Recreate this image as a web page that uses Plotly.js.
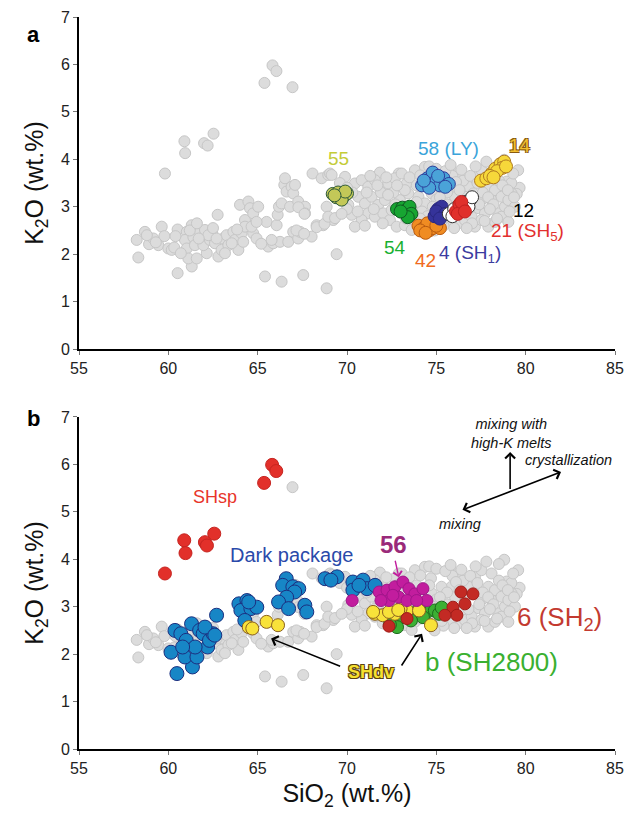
<!DOCTYPE html>
<html>
<head>
<meta charset="utf-8">
<script src="https://cdn.plot.ly/plotly-3.0.1.min.js"></script>
<style>html,body{margin:0;padding:0;background:#fff}#chart{width:628px;height:815px}</style>
</head>
<body>
<div id="chart"></div>
<script>
// Grey background dataset (SiO2, K2O)
const greyX = [65.83,66.05,65.38,66.95,60.90,60.94,62.00,62.20,62.53,59.81,58.32,60.52,61.31,65.41,66.34,67.55,68.86,69.42,68.07,71.84,72.90,79.66,79.50,78.83,
58.23,58.69,58.92,59.16,59.44,59.63,59.78,60.00,60.19,60.33,60.52,61.03,60.93,61.03,61.12,61.31,61.40,61.59,61.49,61.77,62.05,62.15,61.96,62.33,62.46,62.61,62.76,62.80,62.98,63.08,63.26,63.36,63.64,63.73,63.92,64.01,64.10,64.19,64.29,64.29,64.48,64.57,64.75,64.75,64.94,65.03,64.66,65.50,65.59,65.87,66.06,66.12,66.19,66.25,66.34,66.49,66.53,66.62,66.71,66.81,66.90,66.99,67.09,66.99,67.27,67.27,67.37,67.65,67.65,68.02,68.30,68.58,68.67,68.86,68.95,69.05,69.23,62.24,63.55,63.17,62.70,64.94,65.78,60.40,61.20,61.70,62.50,63.85,65.20,67.17,67.60,68.30,68.74,67.28,67.62,58.80,59.30,60.70,61.60,
69.14,68.95,69.33,69.89,70.44,70.82,71.19,71.56,72.03,72.31,72.68,73.06,73.34,70.63,71.00,71.38,71.75,72.12,71.19,71.56,72.03,72.40,72.50,72.78,73.24,70.82,70.26,70.07,70.44,73.80,74.36,76.23,76.79,76.60,77.07,77.35,77.72,78.09,78.47,78.84,79.21,79.58,74.00,74.36,74.74,73.62,73.43,76.04,75.85,75.29,76.42,76.23,76.60,76.98,77.16,77.53,77.91,78.28,78.65,79.03,77.53,77.91,78.28,78.65,79.03,77.16,77.53,78.09,78.93,79.40,72.96,73.06,73.24,73.80,73.62,78.80,78.50,75.60,75.00,74.20,75.80,76.00,72.60,71.90,70.30,69.60,70.00,69.70,74.70,75.90,76.50,77.80,77.20,75.40,74.90,79.20,
71.3,71.7,72.2,72.8,73.5,73.9,74.1,74.6,75.0,75.5,75.8,76.1,76.4,76.9,77.3,77.6,77.9,78.2,78.5,78.7,79.0,79.3,79.1,78.4,77.7,77.0,76.8,76.3,75.6,75.2,74.8,74.5,74.1,73.7,73.9,72.7,72.3,71.5,71.0,70.6,70.0,71.1,72.0,73.3,77.4,78.0,79.35,76.7,75.3,74.6];
const greyY = [5.98,5.86,5.61,5.52,4.38,4.13,4.34,4.29,4.54,3.70,1.93,1.60,1.74,1.53,1.42,1.56,1.28,2.00,3.70,3.72,3.70,3.40,3.27,2.85,
2.30,2.47,2.21,2.33,2.19,2.58,2.38,2.12,2.09,2.14,2.52,2.47,2.30,2.12,1.91,2.61,2.36,1.91,2.19,2.47,2.51,2.02,2.19,2.30,2.44,2.23,2.83,1.95,2.09,2.33,2.40,2.19,2.47,2.30,2.09,3.04,2.44,2.26,2.72,2.58,3.11,2.97,2.86,2.44,2.33,3.00,2.58,2.68,2.16,2.23,2.61,2.83,3.00,2.26,3.07,3.46,3.60,3.32,2.26,3.00,3.42,3.28,3.46,2.47,3.11,2.33,2.47,3.00,2.86,2.37,2.61,3.60,2.61,3.00,3.67,3.70,2.72,2.40,2.23,2.02,2.33,2.68,2.30,2.38,2.50,2.33,2.55,2.52,2.22,2.50,2.43,2.57,2.64,2.99,2.85,2.40,2.25,2.02,2.65,
3.67,2.79,2.76,3.63,3.49,3.56,3.42,3.56,3.39,3.49,3.60,3.70,3.49,3.21,3.07,3.21,3.04,3.14,2.86,2.79,2.86,2.72,2.93,2.58,2.61,2.72,2.83,3.04,2.58,3.77,3.84,3.70,3.42,3.21,3.28,2.97,2.86,3.14,2.86,3.00,3.28,3.77,3.21,3.07,3.28,3.00,3.28,3.21,3.42,3.42,2.93,2.65,2.72,2.79,2.58,2.72,2.58,2.68,2.79,2.68,3.14,3.42,3.35,3.21,3.14,3.63,3.77,3.70,3.53,3.00,3.14,2.86,3.35,2.68,2.51,3.99,3.90,3.05,3.15,2.90,2.70,2.55,3.30,3.30,3.30,3.50,2.95,2.85,3.60,3.65,3.55,3.95,3.85,2.60,2.50,3.50,
3.65,3.45,3.62,3.45,3.62,3.45,3.66,3.85,3.80,3.75,3.88,3.52,3.78,3.65,3.50,3.30,3.20,3.05,3.55,3.45,3.35,3.70,2.90,2.75,2.70,2.65,2.95,3.35,3.30,3.20,3.00,2.80,2.75,2.85,3.10,3.05,3.25,2.95,2.60,2.90,3.40,3.30,2.65,2.75,3.05,2.95,3.20,2.55,2.70,3.45];

// Panel a groups
const s55X = [69.2,69.5,69.8,70.0,69.4,69.7,69.9,69.3];
const s55Y = [3.27,3.30,3.22,3.28,3.20,3.15,3.32,3.24];
const s58X = [74.2,74.5,74.8,75.0,75.2,75.4,75.7,74.6,75.1,74.3,75.5];
const s58Y = [3.45,3.60,3.72,3.55,3.45,3.60,3.48,3.40,3.65,3.55,3.42];
const s14X = [77.5,77.8,78.1,78.3,78.6,78.8,78.7,78.4,78.0,78.9,78.2];
const s14Y = [3.55,3.60,3.70,3.80,3.90,3.95,3.82,3.75,3.65,3.85,3.62];
const s54X = [72.8,73.1,73.3,73.5,73.6,73.4,73.0];
const s54Y = [2.95,2.98,2.92,3.00,2.85,2.78,2.90];
const s42X = [74.0,74.3,74.6,74.8,75.2,74.5,74.1,74.4,75.0];
const s42Y = [2.60,2.55,2.50,2.55,2.55,2.65,2.50,2.45,2.60];
const s4X = [74.9,75.1,75.3,75.0,75.5,75.2];
const s4Y = [2.80,2.95,3.00,2.90,2.85,2.75];
const s12X = [75.7,76.0,76.3,76.6,76.9,76.5,76.2,76.8,75.9,77.0];
const s12Y = [2.85,2.95,3.05,3.10,3.15,3.00,2.88,3.00,2.80,3.20];
const s21X = [76.1,76.3,76.5,76.2,76.4,76.6];
const s21Y = [2.90,3.05,2.95,2.85,3.10,2.90];

// Panel b groups
const shspX = [59.81,60.89,60.96,62.05,62.16,62.57,65.36,65.81,66.04];
const shspY = [3.70,4.40,4.13,4.36,4.29,4.54,5.61,5.99,5.86];
const darkX = [60.48,61.35,60.15,60.93,61.60,60.37,60.70,61.00,61.30,61.75,61.95,62.20,62.30,62.50,61.50,60.80,62.70,62.05,62.60,
63.95,64.40,64.06,64.62,64.95,64.28,64.50,
66.60,66.40,66.97,67.30,67.07,66.62,66.17,66.73,67.64,67.75,
68.77,69.44,69.10,
70.33,70.90,71.12,70.33,71.57,70.67];
const darkY = [1.59,1.73,2.04,1.94,1.94,2.50,2.43,2.29,2.64,2.50,2.43,2.15,2.29,2.43,2.15,2.15,2.82,2.57,2.40,
3.06,3.13,2.92,2.96,2.99,2.71,3.10,
3.59,3.45,3.42,3.38,3.31,3.20,3.10,2.96,3.03,2.89,
3.59,3.63,3.56,
3.52,3.56,3.38,3.35,3.45,3.45];
const sbX = [72.68,73.13,73.80,74.47,74.92,75.15,74.25,73.58,72.80,74.03,72.4,75.3];
const sbY = [2.71,2.78,2.85,2.89,2.92,2.85,2.78,2.71,2.57,2.96,2.62,2.98];
const shdvX = [64.50,64.70,65.50,66.14,71.57,72.00,72.68,73.36,74.03,74.70,71.46,72.35,73.00,72.87];
const shdvY = [2.57,2.54,2.68,2.61,2.85,2.82,2.85,2.92,2.92,2.61,2.89,2.89,2.96,2.93];
const s56X = [70.29,71.80,72.24,72.68,73.13,73.47,73.80,74.25,74.47,72.90,72.35,71.90,73.36,73.90,72.57];
const s56Y = [3.13,3.31,3.35,3.42,3.52,3.38,3.27,3.38,3.13,3.20,3.13,3.13,3.13,3.13,3.24];
const s6X = [76.38,77.05,76.60,75.93,76.15,75.48,73.36,72.35];
const s6Y = [3.31,3.27,3.06,2.99,2.82,2.82,2.75,2.59];

const xTicks = [55,60,65,70,75,80,85];
const yTicks = [0,1,2,3,4,5,6,7];

function sc(x, y, xa, ya, fill, line, size) {
  return {type:'scatter', mode:'markers', x:x, y:y, xaxis:xa, yaxis:ya, hoverinfo:'skip',
    marker:{size:size, color:fill, line:{color:line, width:1}}};
}
const traces = [
  sc(greyX, greyY, 'x', 'y', '#dcdcdc', '#c6c6c6', 11),
  sc(s55X, s55Y, 'x', 'y', '#c3c858', '#2f5a3a', 13),
  sc(s58X, s58Y, 'x', 'y', '#4aa3d8', '#2c3f9c', 13),
  sc(s14X, s14Y, 'x', 'y', '#f6d83a', '#b07a20', 13),
  sc(s54X, s54Y, 'x', 'y', '#17a532', '#0f5a22', 13),
  sc(s42X, s42Y, 'x', 'y', '#f08c22', '#b85a10', 13),
  sc(s4X, s4Y, 'x', 'y', '#35339a', '#2a2880', 13),
  sc(s12X, s12Y, 'x', 'y', '#ffffff', '#333333', 13),
  sc(s21X, s21Y, 'x', 'y', '#e0302c', '#c02020', 13),

  sc(greyX, greyY, 'x2', 'y2', '#dcdcdc', '#c6c6c6', 11),
  sc(darkX, darkY, 'x2', 'y2', '#1786c6', '#1c2f80', 14),
  sc(sbX, sbY, 'x2', 'y2', '#3cb034', '#1d6a1d', 13),
  sc(shdvX, shdvY, 'x2', 'y2', '#f8e23a', '#8a6020', 13),
  sc(s56X, s56Y, 'x2', 'y2', '#c21d9e', '#a0158a', 12),
  sc(s6X, s6Y, 'x2', 'y2', '#c32a24', '#a01c18', 12),
  sc(shspX, shspY, 'x2', 'y2', '#e2302a', '#c62420', 13)
];

const FONT = 'Liberation Sans, Arial, sans-serif';
function ax(extra) {
  return Object.assign({range:[55,85], tickvals:xTicks, showline:true, linecolor:'#000', linewidth:2,
    ticks:'outside', ticklen:4, tickwidth:1, tickcolor:'#777', showgrid:false, zeroline:false,
    tickfont:{family:FONT, size:16, color:'#222'}, fixedrange:true}, extra);
}
function ay(extra) {
  return Object.assign({range:[0,7], tickvals:yTicks, showline:true, linecolor:'#000', linewidth:2,
    ticks:'outside', ticklen:4, tickwidth:1, tickcolor:'#777', showgrid:false, zeroline:false,
    tickfont:{family:FONT, size:16, color:'#222'}, fixedrange:true,
    title:{text:'K<sub>2</sub>O (wt.%)', font:{family:FONT, size:25, color:'#111'}, standoff:10}}, extra);
}

function lab(text, x, y, xr, yr, size, color, extra) {
  return Object.assign({text:text, x:x, y:y, xref:xr, yref:yr, showarrow:false,
    font:{family:FONT, size:size, color:color}}, extra || {});
}
function arrow(x, y, axv, ayv, color, extra) {
  return Object.assign({text:'', x:x, y:y, ax:axv, ay:ayv, xref:'x2', yref:'y2', axref:'x2', ayref:'y2',
    showarrow:true, arrowhead:4, arrowsize:1.2, arrowwidth:1.6, arrowcolor:color}, extra || {});
}

const annotations = [
  lab('<b>a</b>', -0.1, 0.996, 'paper', 'paper', 22, '#000'),
  lab('<b>b</b>', -0.1, 0.452, 'paper', 'paper', 22, '#000'),
  lab('55', 69.5, 4.02, 'x', 'y', 19, '#c4cc38'),
  lab('58 (LY)', 75.7, 4.22, 'x', 'y', 19, '#3aa4da'),
  lab('14', 79.7, 4.3, 'x', 'y', 19, '#f2c030', {font:{family:FONT, size:19, color:'#f2c030', shadow:'1px 1px 0 #8a5a10, -1px -1px 0 #8a5a10, 1px -1px 0 #8a5a10, -1px 1px 0 #8a5a10'}}),
  lab('12', 79.9, 2.92, 'x', 'y', 19, '#000'),
  lab('21 (SH<sub>5</sub>)', 80.1, 2.47, 'x', 'y', 19, '#e2302e'),
  lab('4 (SH<sub>1</sub>)', 76.9, 2.0, 'x', 'y', 19, '#3b3ba0'),
  lab('42', 74.4, 1.86, 'x', 'y', 19, '#f06a20'),
  lab('54', 72.7, 2.14, 'x', 'y', 19, '#18b030'),

  lab('SHsp', 62.6, 5.31, 'x2', 'y2', 18, '#e8352a'),
  lab('Dark package', 66.9, 4.1, 'x2', 'y2', 20, '#2a4aaa'),
  lab('<b>56</b>', 72.6, 4.32, 'x2', 'y2', 24, '#9a2a7a'),
  arrow(72.9, 3.62, 72.68, 4.0, '#c21d9e', {arrowwidth:1.4}),
  lab('6 (SH<sub>2</sub>)', 81.9, 2.75, 'x2', 'y2', 26, '#c33a30'),
  lab('b (SH2800)', 78.1, 1.83, 'x2', 'y2', 26, '#3ab030'),
  lab('<b>SHdv</b>', 71.35, 1.62, 'x2', 'y2', 18, '#f6e030', {font:{family:FONT, size:18, color:'#f6e030', shadow:'1px 1px 0 #5a4010, -1px -1px 0 #5a4010, 1px -1px 0 #5a4010, -1px 1px 0 #5a4010'}}),
  arrow(65.75, 2.33, 69.7, 1.73, '#000'),
  arrow(74.2, 2.43, 73.0, 1.73, '#000'),
  arrow(79.13, 6.26, 79.13, 5.45, '#000'),
  arrow(81.98, 5.84, 76.38, 5.03, '#000', {arrowside:'end+start'}),
  lab('<i>mixing with<br>high-K melts</i>', 79.2, 6.66, 'x2', 'y2', 14.5, '#111'),
  lab('<i>crystallization</i>', 82.4, 6.1, 'x2', 'y2', 14.5, '#111'),
  lab('<i>mixing</i>', 76.3, 4.74, 'x2', 'y2', 14.5, '#111')
];

const layout = {
  width:628, height:815, margin:{l:79, r:13, t:17, b:66},
  paper_bgcolor:'#fff', plot_bgcolor:'#fff', showlegend:false,
  font:{family:FONT},
  xaxis: ax({anchor:'y', domain:[0,1]}),
  yaxis: ay({anchor:'x', domain:[0.5464,1]}),
  xaxis2: ax({anchor:'y2', domain:[0,1], title:{text:'SiO<sub>2</sub> (wt.%)', font:{family:FONT, size:25, color:'#111'}, standoff:8}}),
  yaxis2: ay({anchor:'x2', domain:[0,0.4536]}),
  annotations: annotations
};
Plotly.newPlot('chart', traces, layout, {staticPlot:true, displayModeBar:false});
</script>
</body>
</html>
